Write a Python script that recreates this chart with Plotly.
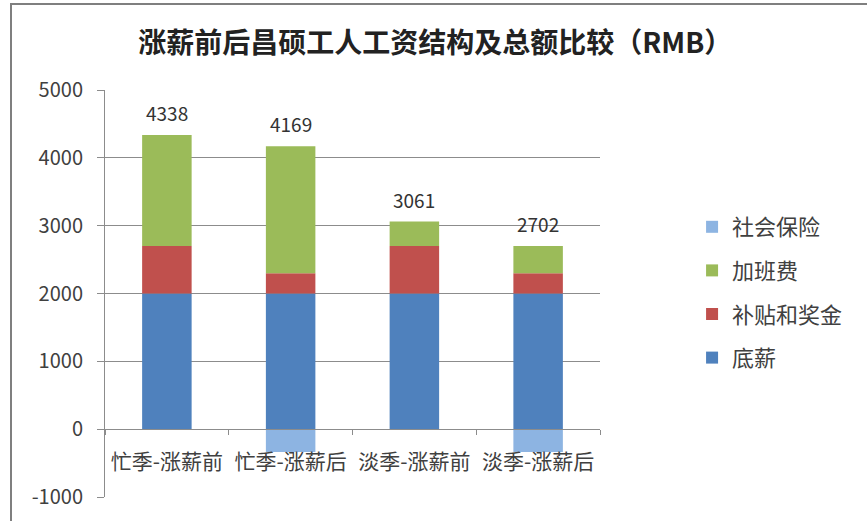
import plotly.graph_objects as go

categories = ["忙季-涨薪前", "忙季-涨薪后", "淡季-涨薪前", "淡季-涨薪后"]
base_pay = [2000, 2000, 2000, 2000]
allowance_bonus = [700, 300, 700, 300]
overtime = [1638, 1869, 361, 402]
social_insurance = [0, -335, 0, -335]
series_names = ["底薪", "补贴和奖金", "加班费", "社会保险"]
y_ticks = [-1000, 0, 1000, 2000, 3000, 4000, 5000]

totals = [b + a + o for b, a, o in zip(base_pay, allowance_bonus, overtime)]

colors = ["#4F81BD", "#C0504D", "#9BBB59", "#8DB4E2"]
series_values = [base_pay, allowance_bonus, overtime, social_insurance]
legend_ranks = [4, 3, 2, 1]

FONT = "Noto Sans CJK SC"
fig = go.Figure()
for name, vals, col, rank in zip(series_names, series_values, colors, legend_ranks):
    fig.add_trace(go.Bar(
        x=categories, y=vals, name=name, marker=dict(color=col, line=dict(width=0)),
        legendgroup=name, legendrank=rank, hoverinfo="skip",
    ))

for cat, tot in zip(categories, totals):
    fig.add_annotation(
        x=cat, y=tot, text=str(tot), showarrow=False,
        xanchor="center", yanchor="bottom", yshift=7,
        font=dict(size=19, color="#333333", family=FONT),
    )

fig.update_layout(
    width=867, height=521,
    margin=dict(l=105, r=267, t=90, b=24),
    paper_bgcolor="white", plot_bgcolor="white",
    barmode="relative", bargap=0.6,
    font=dict(family=FONT, color="#404040"),
    title=dict(
        text="<b>涨薪前后昌硕工人工资结构及总额比较（RMB）</b>",
        font=dict(size=28, color="#222222", family=FONT),
        xref="container", x=0.502, xanchor="center",
        yref="container", y=1 - 43 / 521, yanchor="middle",
    ),
    legend=dict(
        x=1.186, y=(497 - 206) / 407, xanchor="left", yanchor="top",
        traceorder="grouped", tracegroupgap=12,
        font=dict(size=22, color="#404040", family=FONT),
        itemwidth=30, bgcolor="rgba(0,0,0,0)",
    ),
    showlegend=True,
)

fig.update_yaxes(
    range=[-1000, 5000], tickvals=y_ticks, ticktext=[str(v) for v in y_ticks],
    showgrid=True, gridcolor="#8c8c8c", gridwidth=1,
    showline=True, linecolor="#8c8c8c", linewidth=1,
    ticks="outside", ticklen=7, tickcolor="#8c8c8c",
    ticklabelstandoff=10,
    tickfont=dict(size=20, color="#404040", family=FONT),
    zeroline=False,
)
fig.update_xaxes(
    anchor="free", position=1 / 6,
    showline=True, linecolor="#8c8c8c", linewidth=1,
    ticks="outside", ticklen=5, tickcolor="#8c8c8c", tickson="boundaries",
    ticklabelstandoff=14,
    showgrid=False,
    tickfont=dict(size=21, color="#404040", family=FONT),
)

# chart area border
fig.add_shape(type="rect", xref="paper", yref="paper",
              x0=(11 - 105) / 495, x1=1.7, y0=-0.3, y1=(497 - 4) / 407,
              line=dict(color="#7f7f7f", width=2), fillcolor="rgba(0,0,0,0)", layer="below")

fig.write_html("out.html", config={"displayModeBar": False},
               post_script="document.body.style.margin='0';")
